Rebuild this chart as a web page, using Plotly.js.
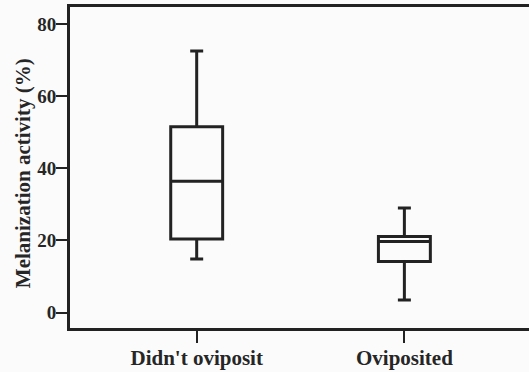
<!DOCTYPE html>
<html>
<head>
<meta charset="utf-8">
<script src="https://cdn.plot.ly/plotly-3.0.1.min.js"></script>
<style>html,body{margin:0;padding:0;background:#fbfbfb;}#chart{width:529px;height:372px;}</style>
</head>
<body>
<div id="chart"></div>
<script>
var categories = ["Didn't oviposit", "Oviposited"];
var lowerWhisker = [14.9, 3.5];
var q1Values = [20.4, 14.2];
var medianValues = [36.4, 19.7];
var q3Values = [51.5, 21.1];
var upperWhisker = [72.5, 29.0];
var yTicks = [0, 20, 40, 60, 80];
var yTitle = 'Melanization activity (%)';

var trace = {
  type: 'box',
  x: categories,
  q1: q1Values,
  median: medianValues,
  q3: q3Values,
  lowerfence: lowerWhisker,
  upperfence: upperWhisker,
  width: 0.25,
  whiskerwidth: 0.25,
  fillcolor: 'rgba(0,0,0,0)',
  line: {color: '#222222', width: 3},
  boxpoints: false,
  hoverinfo: 'none'
};

var fontFam = '"Liberation Serif", "Times New Roman", serif';
var layout = {
  width: 529, height: 372,
  margin: {l: 70, r: 0, t: 7, b: 44},
  paper_bgcolor: '#fbfbfb',
  plot_bgcolor: '#fbfbfb',
  showlegend: false,
  font: {family: fontFam, color: '#222222'},
  xaxis: {
    type: 'category',
    range: [-0.61, 1.6],
    showgrid: false, zeroline: false,
    showline: true, linecolor: '#222222', linewidth: 3, mirror: true,
    ticks: 'outside', ticklen: 12, tickwidth: 2, tickcolor: '#222222',
    ticklabelstandoff: -3,
    tickfont: {family: fontFam, size: 21, color: '#262626', weight: 'bold'}
  },
  yaxis: {
    range: [-4.25, 84.7],
    tickvals: yTicks,
    ticktext: yTicks.map(String),
    showgrid: false, zeroline: false,
    showline: true, linecolor: '#222222', linewidth: 3, mirror: true,
    ticks: 'outside', ticklen: 11, tickwidth: 2, tickcolor: '#222222',
    ticklabelstandoff: -4,
    tickfont: {family: fontFam, size: 19, color: '#262626', weight: 'bold'}
  },
  annotations: [{
    text: yTitle, textangle: -90, showarrow: false,
    xref: 'paper', yref: 'paper', x: -0.102, y: 0.483,
    xanchor: 'center', yanchor: 'middle',
    font: {family: fontFam, size: 21, color: '#262626', weight: 'bold'}
  }]
};

Plotly.newPlot('chart', [trace], layout, {staticPlot: true, displayModeBar: false});
</script>
</body>
</html>
